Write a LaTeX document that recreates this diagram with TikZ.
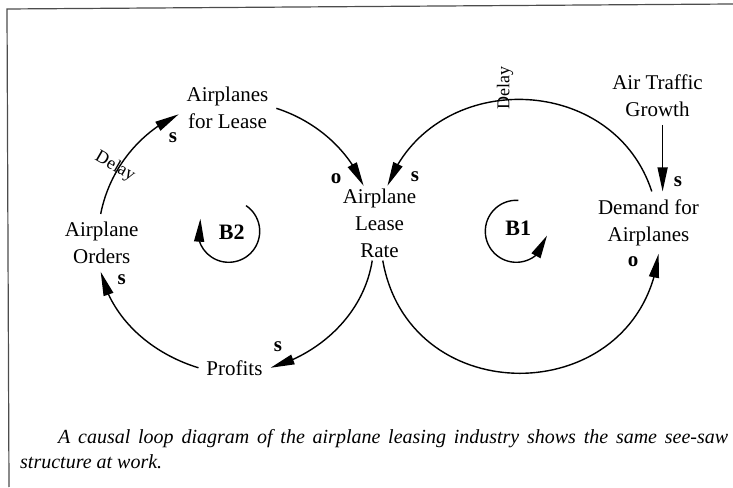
\documentclass[tikz,border=0pt]{standalone}
\usepackage{fontspec}
\setmainfont{Liberation Serif}
\usetikzlibrary{arrows.meta,bending}

\begin{document}
\begin{tikzpicture}[x=1pt,y=1pt,
  var/.style={font=\fontsize{21}{27}\selectfont,align=center,inner sep=3pt,outer sep=5pt},
  pol/.style={font=\fontsize{21}{21}\selectfont\bfseries,inner sep=0pt},
  loopname/.style={font=\fontsize{22}{22}\selectfont\bfseries,inner sep=0pt},
  delay/.style={font=\fontsize{18}{18}\selectfont,inner sep=0pt},
  link/.style={line width=1.4pt,-{Triangle[length=24pt,width=10pt,flex]}},
  loopar/.style={line width=1.4pt,-{Triangle[length=23pt,width=10pt,flex]}},
  caption/.style={font=\fontsize{20}{24}\selectfont\itshape,inner sep=0pt,anchor=base west}]
\useasboundingbox (0,0) rectangle (733,487);
\draw[line width=1.2pt,black!70] (9,0) -- (7,478) -- (733,483);

\node[var] at (227.5,378.7) (forlease) {Airplanes\\for Lease};
\node[var,outer sep=0pt] at (379.5,263.8) (leaserate) {Airplane\\Lease\\Rate};
\node[var] at (101.7,244.1) (orders) {Airplane\\Orders};
\node[var] at (234.5,119.2) (profits) {Profits};
\node[var] at (657.5,391.1) (traffic) {Air Traffic\\Growth};
\node[var] at (648.5,264.4) (demand) {Demand for\\Airplanes};

\draw[link] (orders.92) to[out=79,in=205,looseness=0.9] (forlease.187);
\draw[link] (forlease.east) to[out=-18,in=113,looseness=0.89] (leaserate.113);
\draw[link] (leaserate.259) to[out=-99,in=16,looseness=0.92] (profits.east);
\draw[link] (profits.west) to[out=163,in=-77,looseness=0.91] (orders.268);
\draw[link] (demand.84) to[out=108,in=69,looseness=1.22] (leaserate.78);
\draw[link] (leaserate.275) to[out=-80,in=-97,looseness=1.45] (demand.-72);
\draw[link] (traffic.-80) -- (traffic.-80 |- demand.north);

\node[pol] at (173,349) (s1) {s};
\node[pol] at (336,308.7) (o1) {o};
\node[pol] at (415,310.3) (s2) {s};
\node[pol] at (678,305) (s3) {s};
\node[pol] at (633,225.3) (o2) {o};
\node[pol] at (278,140.3) (s4) {s};
\node[pol] at (121.7,207) (s5) {s};

\node[delay,rotate=-30] at (115,320) (delayleft) {Delay};
\node[delay,rotate=90] at (505,399) (delayright) {Delay};

\node[loopname] at (231.7,254.7) (b2) {B2};
\node[loopname] at (518.3,258.7) (b1) {B1};
\draw[loopar] ([shift={(-3,1)}]b2.center) ++(56:31) arc[start angle=56,end angle=-204,radius=31];
\draw[loopar] ([shift={(-2,-3)}]b1.center) ++(86:31) arc[start angle=86,end angle=352,radius=31];

\node[caption] at (58,43) (cap1)
  {\hbox to 670pt{A causal loop diagram of the airplane leasing industry shows the same see-saw}};
\node[caption] at (20,19) (cap2) {structure at work.};
\end{tikzpicture}
\end{document}
